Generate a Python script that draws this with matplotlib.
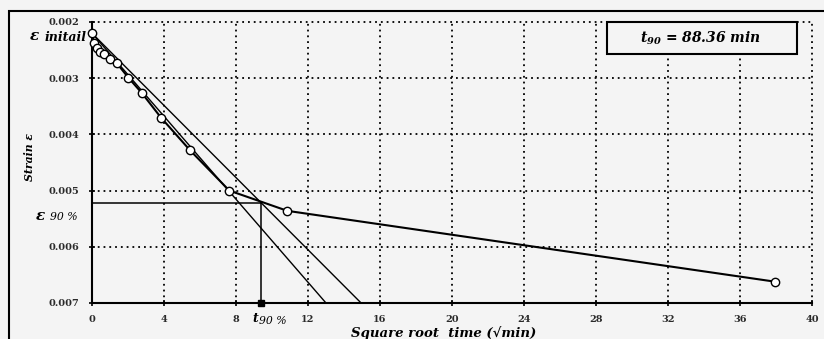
import numpy as np
import matplotlib
matplotlib.use("Agg")
import matplotlib.pyplot as plt
from matplotlib.patches import Rectangle

# square root of elapsed time (sqrt(min)) and measured strain
sqrt_time = [0.0, 0.11, 0.26, 0.44, 0.67, 1.0, 1.37, 2.02, 2.76, 3.83, 5.44, 7.63, 10.85, 37.93]
strain = [0.0022, 0.00237, 0.00246, 0.00253, 0.00257, 0.00265, 0.00273,
          0.00299, 0.00326, 0.0037, 0.00428, 0.0050, 0.00536, 0.00662]

# Taylor construction
strain_zero = 0.0022       # corrected zero reading
tangent_cut = 13.0         # sqrt(t) where the initial tangent reaches the bottom axis
taylor_factor = 1.15       # abscissa factor for the 90 % line
t90 = 88.36                # min

x_ticks = [0, 4, 8, 12, 16, 20, 24, 28, 32, 36, 40]
y_ticks = [0.002, 0.003, 0.004, 0.005, 0.006, 0.007]

SERIF = ["DejaVu Serif"]
plt.rcParams["font.family"] = SERIF
plt.rcParams["mathtext.fontset"] = "custom"
plt.rcParams["mathtext.it"] = "DejaVu Serif:italic:bold"
plt.rcParams["mathtext.rm"] = "DejaVu Serif:italic:bold"
BG = "#f4f4f4"
BI = dict(fontweight="bold", style="italic")

fig = plt.figure(figsize=(8.24, 3.39), dpi=100, facecolor=BG)
ax = fig.add_axes([92 / 824, 1 - 303 / 339, 720 / 824, 281 / 339], facecolor=BG)

y_bottom = y_ticks[-1]
cut_90 = tangent_cut * taylor_factor
slope_90 = (y_bottom - strain_zero) / cut_90
sqrt_t90 = np.sqrt(t90)
strain_90 = strain_zero + slope_90 * sqrt_t90

# tangent and 1.15 line
ax.plot([0, tangent_cut], [strain_zero, y_bottom], color="black", lw=1.0, zorder=3)
ax.plot([0, cut_90], [strain_zero, y_bottom], color="black", lw=1.0, zorder=3)

# t90 / e90 guides
ax.plot([0, sqrt_t90], [strain_90, strain_90], color="black", lw=1.1, zorder=3)
ax.plot([sqrt_t90, sqrt_t90], [strain_90, y_bottom], color="black", lw=1.1, zorder=3)
ax.plot([sqrt_t90], [y_bottom], marker="s", ms=4, color="black", clip_on=False, zorder=5)

# measured curve
ax.plot(sqrt_time, strain, color="black", lw=1.5, marker="o", ms=6,
        mfc="white", mec="black", mew=1.0, zorder=4, clip_on=False)

ax.set_xlim(0, 40)
ax.set_ylim(0.007, 0.002)
ax.set_xticks(x_ticks)
ax.set_yticks(y_ticks)
ax.set_yticklabels([f"{v:.3f}" for v in y_ticks])

ax.grid(True, color="black", linestyle=(0, (1, 2.2)), linewidth=1.3)
for gl in ax.get_xgridlines() + ax.get_ygridlines():
    gl.set_clip_on(False)

for side in ["top", "right"]:
    ax.spines[side].set_visible(False)
for side in ["left", "bottom"]:
    ax.spines[side].set_linewidth(1.5)

ax.tick_params(direction="inout", length=5, width=1.2, colors="black")
ax.tick_params(axis="y", pad=6.5)
ax.tick_params(axis="x", pad=6.5)
for lab in ax.get_xticklabels() + ax.get_yticklabels():
    lab.set_fontsize(7)
    lab.set_fontweight("bold")
    lab.set_color("#2a2a2a")

ax.text(0.488, -0.108, "Square root  time (\u221amin)", transform=ax.transAxes,
        ha="center", va="center", fontsize=9.5, **BI)
fig.text(30 / 824, 1 - 157 / 339, "Strain \u03b5", rotation=90, ha="center", va="center",
         fontsize=7.8, **BI)

# labels at the axes
lab_init = ax.annotate("initail", xy=(0, strain[0]), xytext=(-4, -3),
                       textcoords="offset points", ha="right", va="center",
                       fontsize=9, annotation_clip=False, **BI)
ax.annotate("\u03b5 ", xy=(0, 0.6), xycoords=lab_init, ha="right", va="center",
            fontsize=11, **BI)
lab_90 = ax.annotate("90 %", xy=(0, strain_90), xytext=(-10, -10),
                     textcoords="offset points", ha="right", va="center",
                     fontsize=7.8, style="italic", annotation_clip=False)
ax.annotate("\u03b5 ", xy=(0, 0.6), xycoords=lab_90, ha="right", va="center",
            fontsize=11, **BI)
lab_t = ax.annotate("t", xy=(sqrt_t90, y_bottom), xytext=(-6, -11),
                    textcoords="offset points", ha="left", va="center",
                    fontsize=9, annotation_clip=False, **BI)
ax.annotate("90 %", xy=(1, 0.3), xycoords=lab_t, ha="left", va="center",
            fontsize=7.8, style="italic")

# t90 result box
box = Rectangle((515 / 720, 249 / 281), 190 / 720, 32 / 281, transform=ax.transAxes,
                facecolor=BG, edgecolor="black", lw=1.5, zorder=6, clip_on=False)
ax.add_patch(box)
ax.text(609 / 720, 265 / 281, r"$t_{90}$ = 88.36 min", transform=ax.transAxes,
        ha="center", va="center", fontsize=10, zorder=7, **BI)

# outer frame
fig.patches.append(Rectangle((9 / 824, -0.1), 1.2, 1.1 - 11 / 339, transform=fig.transFigure,
                             fill=False, edgecolor="black", lw=1.5))

fig.savefig("out.png", dpi=100, facecolor=BG)
